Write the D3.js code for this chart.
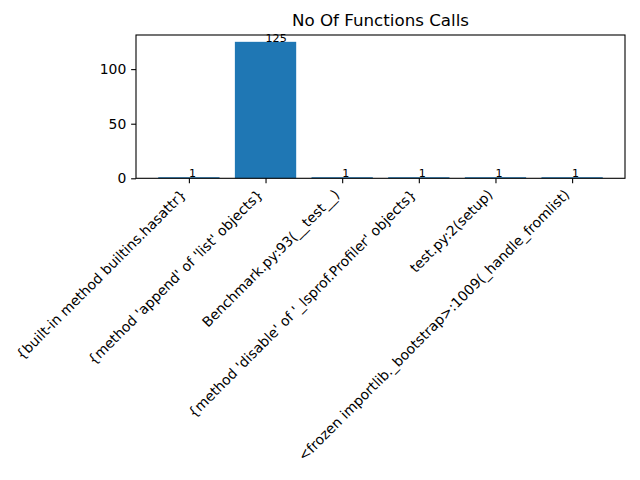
<!DOCTYPE html>
<html><head><meta charset="utf-8">
<script src="https://cdn.jsdelivr.net/npm/d3@7"></script>
<style>body{margin:0;background:#fff}</style>
</head><body>
<script>
const categories = [
  "{built-in method builtins.hasattr}",
  "{method 'append' of 'list' objects}",
  "Benchmark.py:93(__test__)",
  "{method 'disable' of '_lsprof.Profiler' objects}",
  "test.py:2(setup)",
  "<frozen importlib._bootstrap>:1009(_handle_fromlist)"
];
const calls = [1, 125, 1, 1, 1, 1];
const yTicks = [0, 50, 100];
const title = "No Of Functions Calls";

const W = 640, H = 480;
const L = 136, R = 625, T = 35, B = 178.3;
const font = "DejaVu Sans";
const tickLen = 4.86, tickPad = 4.86;

const svg = d3.select("body").append("svg").attr("width", W).attr("height", H);

const n = categories.length;
const x = d3.scaleLinear().domain([-0.4 - 0.05 * (n - 0.2), n - 1 + 0.4 + 0.05 * (n - 0.2)]).range([L, R]);
const y = d3.scaleLinear().domain([0, d3.max(calls) * 1.05]).range([B, T]);
const bw = x(0.8) - x(0);

svg.append("g").selectAll("rect").data(calls).join("rect")
  .attr("x", (d, i) => x(i) - bw / 2)
  .attr("y", d => y(d))
  .attr("width", bw)
  .attr("height", d => y(0) - y(d))
  .attr("fill", "#1f77b4");

svg.append("g").selectAll("text").data(calls).join("text")
  .attr("x", (d, i) => x(i))
  .attr("y", d => y(d))
  .attr("font-family", font).attr("font-size", 11.1)
  .attr("fill", "#000")
  .text(d => d);

// y axis
const yAxis = d3.axisLeft(y).tickValues(yTicks).tickSize(tickLen).tickPadding(tickPad);
const gy = svg.append("g").attr("transform", `translate(${L},0)`).call(yAxis);
gy.select(".domain").remove();
gy.selectAll("text").attr("font-family", font).attr("font-size", 13.9).attr("fill", "#000");
gy.selectAll("line").attr("stroke", "#000").attr("stroke-width", 1.1);

// x axis
const xAxis = d3.axisBottom(x).tickValues(d3.range(n)).tickSize(tickLen).tickFormat("");
const gx = svg.append("g").attr("transform", `translate(0,${B})`).call(xAxis);
gx.select(".domain").remove();
gx.selectAll("line").attr("stroke", "#000").attr("stroke-width", 1.1);
gx.selectAll(".tick").append("text")
  .attr("transform", "translate(-2.3,17.2) rotate(-45)")
  .attr("text-anchor", "end")
  .attr("font-family", font).attr("font-size", 13.9).attr("fill", "#000")
  .text((d, i) => categories[i]);

// frame
svg.append("rect").attr("x", L).attr("y", T).attr("width", R - L).attr("height", B - T)
  .attr("fill", "none").attr("stroke", "#000").attr("stroke-width", 1.1);

svg.append("text").attr("x", (L + R) / 2).attr("y", T - 9.3)
  .attr("text-anchor", "middle").attr("font-family", font).attr("font-size", 16.7)
  .attr("fill", "#000").text(title);
</script>
</body></html>
